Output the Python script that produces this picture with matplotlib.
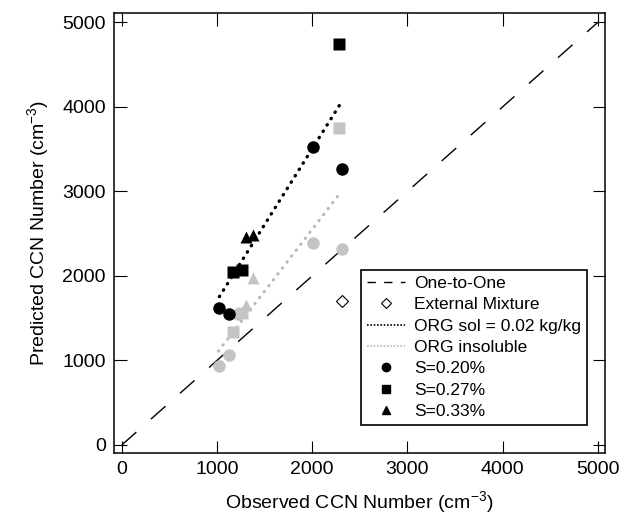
import numpy as np
import matplotlib
matplotlib.use('Agg')
import matplotlib.pyplot as plt
from matplotlib.lines import Line2D

plt.rcParams['font.family'] = ['Liberation Sans', 'DejaVu Sans']
plt.rcParams['mathtext.default'] = 'regular'

# observed / predicted CCN numbers (cm-3)
# S=0.20%
obs_020 = [1025, 1130, 2006, 2314]
sol_020 = [1618, 1547, 3523, 3266]
obs_020_ins = [1022, 1130, 1225, 2006, 2314]
ins_020 = [935, 1065, 1545, 2394, 2316]
# S=0.27%
obs_027 = [1172, 1260, 2283]
sol_027 = [2051, 2071, 4740]
ins_027 = [1341, 1560, 3748]
# S=0.33%
obs_033 = [1300, 1375]
sol_033 = [2465, 2480]
ins_033 = [1657, 1976]
# external mixture
obs_ext = [2314]
pred_ext = [1704]
# fit lines
fit_sol_x = [1025, 2311]
fit_sol_y = [1755, 4063]
fit_ins_x = [1015, 2300]
fit_ins_y = [1110, 2990]

grey = '#c4c4c4'

fig = plt.figure(figsize=(6.22, 5.23), dpi=100)
ax = fig.add_axes([114/622, 1-453/523, (605-114)/622, (453-13)/523])

ax.plot([0, 5000], [0, 5000], color='black', lw=1.0, dashes=(14, 14))
ax.plot(fit_sol_x, fit_sol_y, color='black', lw=2.4, dashes=(0.15, 2.1),
        dash_capstyle='round')
ax.plot(fit_ins_x, fit_ins_y, color='#b8b8b8', lw=2.2, dashes=(0.15, 2.3),
        dash_capstyle='round')

ms = 9
ax.plot(obs_020_ins, ins_020, 'o', color=grey, ms=ms, mec='none')
ax.plot(obs_027, ins_027, 's', color=grey, ms=ms-0.5, mec='none')
ax.plot(obs_033, ins_033, '^', color=grey, ms=ms, mec='none')
ax.plot(obs_020, sol_020, 'o', color='black', ms=ms, mec='none')
ax.plot(obs_027, sol_027, 's', color='black', ms=ms-0.5, mec='none')
ax.plot(obs_033, sol_033, '^', color='black', ms=ms, mec='none')
ax.plot(obs_ext, pred_ext, 'D', mfc='white', mec='black', mew=0.8, ms=6)

ax.set_xlim(-82, 5075)
ax.set_ylim(-95, 5110)
ticks = [0, 1000, 2000, 3000, 4000, 5000]
ax.set_xticks(ticks)
ax.set_yticks(ticks)
ax.tick_params(direction='in', length=9, width=0.8, labelsize=14,
               top=True, right=True, pad=6)
for s in ax.spines.values():
    s.set_linewidth(1.1)

ax.set_xlabel('Observed CCN Number (cm$^{-3}$)', fontsize=14, labelpad=8)
ax.set_ylabel('Predicted CCN Number (cm$^{-3}$)', fontsize=14, labelpad=8)

handles = [
    Line2D([], [], color='black', lw=1.0, dashes=(6, 6)),
    Line2D([], [], ls='none', marker='D', mfc='white', mec='black', mew=0.8, ms=5),
    Line2D([], [], color='black', lw=1.2, dashes=(1, 1)),
    Line2D([], [], color='#b8b8b8', lw=1.2, dashes=(1, 1)),
    Line2D([], [], ls='none', marker='o', color='black', ms=6),
    Line2D([], [], ls='none', marker='s', color='black', ms=5.5),
    Line2D([], [], ls='none', marker='^', color='black', ms=6),
]
labels = ['One-to-One', 'External Mixture', 'ORG sol = 0.02 kg/kg',
          'ORG insoluble', 'S=0.20%', 'S=0.27%', 'S=0.33%']
leg = ax.legend(handles, labels, loc='lower right', bbox_to_anchor=(0.963, 0.063),
                fontsize=12.5, frameon=True, fancybox=False, handlelength=2.2,
                handletextpad=0.5, labelspacing=0.36, borderpad=0.35,
                borderaxespad=0)
leg.get_frame().set_edgecolor('black')
leg.get_frame().set_linewidth(1.2)
leg.get_frame().set_alpha(1)

fig.savefig('out.png', dpi=100)
